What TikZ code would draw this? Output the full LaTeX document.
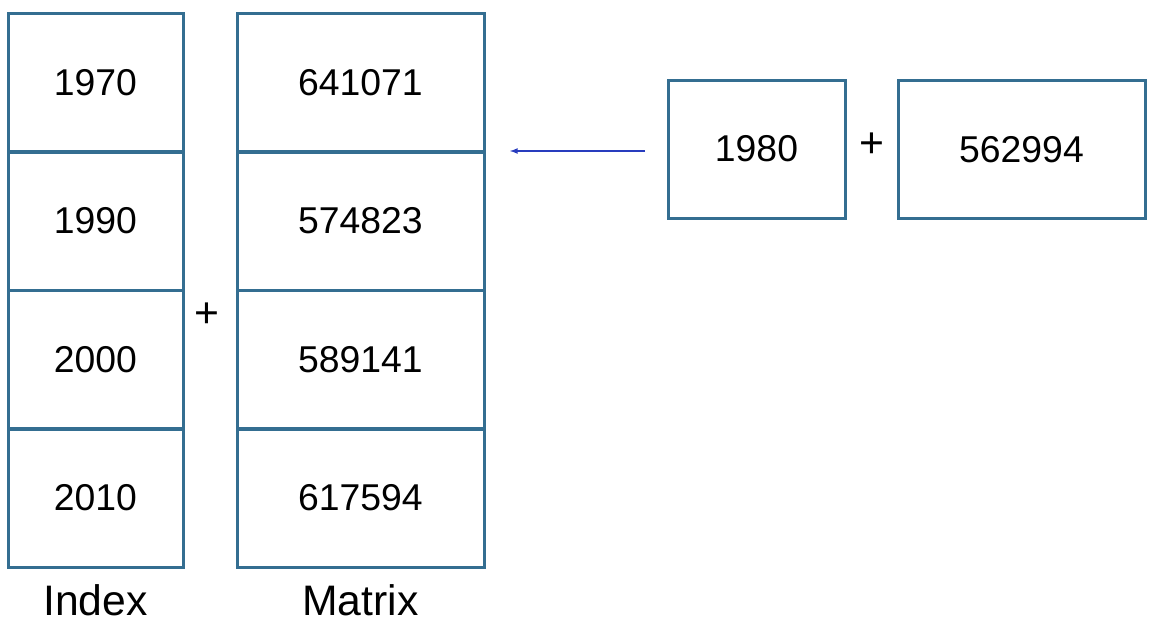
\documentclass[tikz,border=0pt]{standalone}
\usepackage{fontspec}
\setmainfont{Liberation Sans}
\definecolor{boxblue}{RGB}{52,110,145}
\definecolor{arrowblue}{RGB}{40,60,190}
\tikzset{every picture/.style={line width=0.75pt}}
\tikzset{
  cell/.style={draw=boxblue,line width=2.25pt,minimum width=#1,minimum height=103.5pt,inner sep=0pt,font=\fontsize{28}{32}\selectfont},
  cell/.default=131.25pt,
  lbl/.style={inner sep=0.75pt,font=\fontsize{32}{36}\selectfont}
}
\begin{document}
\begin{tikzpicture}[x=0.75pt,y=0.75pt,yscale=-1,xscale=1]
\useasboundingbox (0,0) rectangle (1165,632);

% Index column
\node[cell] (i1) at (95.5,82.5) {1970};
\node[cell] (i2) at (95.5,221) {1990};
\node[cell] (i3) at (95.5,359.5) {2000};
\node[cell] (i4) at (95.5,498) {2010};
% Matrix column
\node[cell=185.25pt] (m1) at (360.5,82.5) {641071};
\node[cell=185.25pt] (m2) at (360.5,221) {574823};
\node[cell=185.25pt] (m3) at (360.5,359.5) {589141};
\node[cell=185.25pt] (m4) at (360.5,498) {617594};
% new row
\node[cell=132.75pt] (n1) at (756.5,149) {1980};
\node[cell=185.25pt] (n2) at (1021.5,149.5) {562994};

% Text Node
\node[lbl] (p1) at (207,315) {+};
\node[lbl] (p2) at (872,145) {+};
\node[lbl] (li) at (95.5,600) {Index};
\node[lbl] (lm) at (360.5,600) {Matrix};

% arrow
\coordinate (a0) at (645,151);
\coordinate (a1) at (510,151);
\draw[arrowblue,line width=1pt,-latex] (a0) -- (a1);
\end{tikzpicture}
\end{document}
